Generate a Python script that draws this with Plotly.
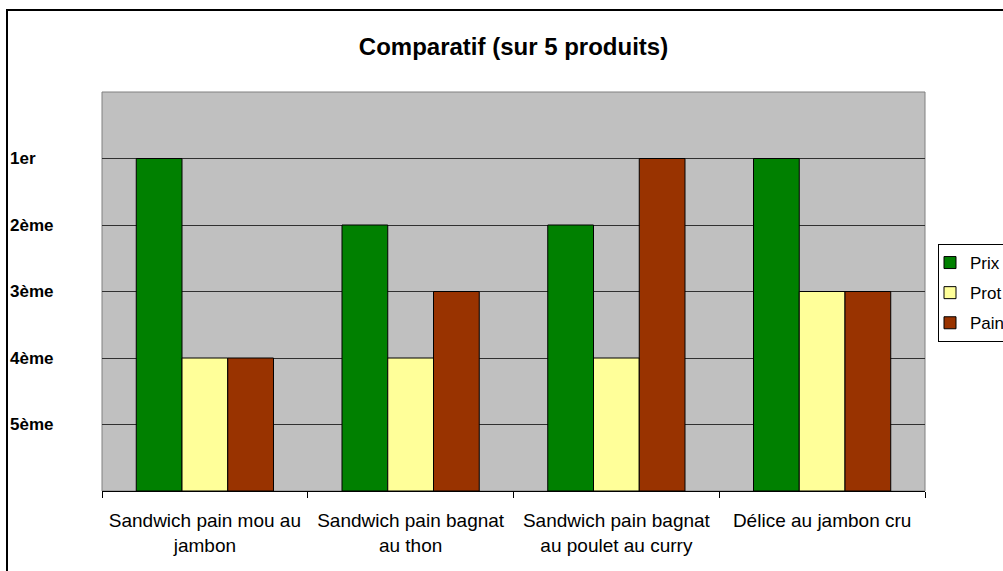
import plotly.graph_objects as go

categories = ["Sandwich pain mou au<br>jambon", "Sandwich pain bagnat<br>au thon",
              "Sandwich pain bagnat<br>au poulet au curry", "Délice au jambon cru"]
# rank score: 5 = 1er, 4 = 2ème, 3 = 3ème, 2 = 4ème, 1 = 5ème
prix = [5, 4, 4, 5]
prot = [2, 2, 2, 3]
pain = [2, 3, 5, 3]
series_names = ["Prix", "Prot", "Pain"]
series_colors = ["#008000", "#FFFF99", "#993300"]
rank_vals = [5, 4, 3, 2, 1]
rank_labels = ["1er", "2ème", "3ème", "4ème", "5ème"]
title_text = "Comparatif (sur 5 produits)"

W, H = 1003, 571
L, R, T, B = 102, 78, 92, 80
pw, ph = W - L - R, H - T - B

fig = go.Figure()
for name, vals, col in zip(series_names, [prix, prot, pain], series_colors):
    fig.add_trace(go.Bar(x=categories, y=vals, name=name, legendgroup=name,
                         marker=dict(color=col, line=dict(color="black", width=1))))

annotations = []
for v, lab in zip(rank_vals, rank_labels):
    annotations.append(dict(xref="paper", yref="y", x=(8 - L) / pw, y=v, xanchor="left",
                            yanchor="middle", text="<b>%s</b>" % lab, showarrow=False,
                            font=dict(family="Liberation Sans, Arial", size=17, color="black")))

fig.update_layout(
    width=W, height=H,
    margin=dict(l=L, r=R, t=T, b=B, autoexpand=False),
    paper_bgcolor="white", plot_bgcolor="#C0C0C0",
    barmode="group", bargap=0.333, bargroupgap=0,
    font=dict(family="Liberation Sans, Arial", color="black"),
    title=dict(text="<b>%s</b>" % title_text, xref="paper", x=0.5, xanchor="center",
               yref="container", y=1 - 47 / H, yanchor="middle",
               font=dict(size=24, color="black")),
    legend=dict(xref="container", yref="container", x=938 / W, y=1 - 244 / H,
                xanchor="left", yanchor="top", bgcolor="white", bordercolor="black",
                borderwidth=1, font=dict(size=17), tracegroupgap=5, traceorder="grouped",
                indentation=-9),
    xaxis=dict(tickson="boundaries", ticks="outside", ticklen=6, tickcolor="black",
               showline=True, linecolor="black", linewidth=1, showgrid=False,
               tickfont=dict(size=19), ticklabelstandoff=12, fixedrange=True),
    yaxis=dict(range=[0, 6], tickvals=rank_vals, showticklabels=False, showgrid=True,
               gridcolor="#303030", gridwidth=1, zeroline=False, showline=False, ticks="",
               fixedrange=True),
    annotations=annotations,
    shapes=[
        dict(type="rect", xref="paper", yref="paper", x0=0, x1=1, y0=0, y1=1,
             line=dict(color="#808080", width=1), fillcolor="rgba(0,0,0,0)", layer="below"),
        dict(type="rect", xref="paper", yref="paper", x0=(7 - L) / pw, x1=1.3,
             y0=-0.5, y1=(H - B - 10) / ph, line=dict(color="black", width=2),
             fillcolor="rgba(0,0,0,0)", layer="below"),
    ],
)

fig.write_html("out.html", config={"displayModeBar": False},
               post_script="document.body.style.margin='0';")
